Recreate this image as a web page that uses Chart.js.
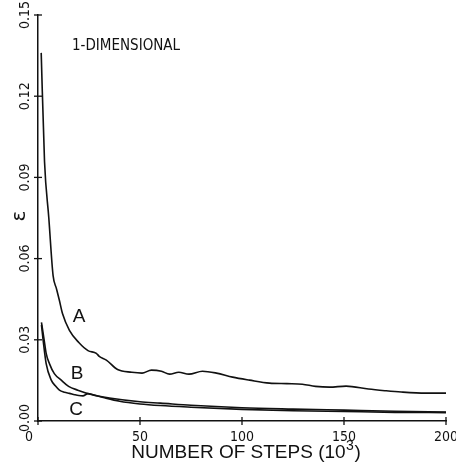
<!DOCTYPE html>
<html>
<head>
<meta charset="utf-8">
<script src="https://cdn.jsdelivr.net/npm/chart.js@4.4.1/dist/chart.umd.min.js"></script>
<style>
  html, body { margin: 0; padding: 0; background: #fff; }
  #wrap { width: 456px; height: 472px; }
</style>
</head>
<body>
<div id="wrap"><canvas id="c" width="456" height="472"></canvas></div>
<script>
// valores (passos em milhares)
const stepsA = [1.57, 3.19, 5.3, 7.4, 9, 10.5, 12, 15.4, 20, 24.5, 28.6, 30, 33.5, 39, 46, 51, 55.6, 60.5, 64.5, 69, 74, 80.6, 87.5, 95.4, 103.7, 113.5, 122, 129.6, 136, 142.9, 151, 162, 170, 178, 190, 200];
const errA   = [0.136, 0.096, 0.075, 0.0537, 0.049, 0.0445, 0.0397, 0.0335, 0.029, 0.026, 0.025, 0.0239, 0.0225, 0.019, 0.018, 0.0177, 0.0188, 0.0184, 0.0173, 0.018, 0.0173, 0.0184, 0.0177, 0.0162, 0.0151, 0.014, 0.0138, 0.0136, 0.0128, 0.0125, 0.0129, 0.0118, 0.0112, 0.0107, 0.0103, 0.0103];

const stepsB = [1.7, 3, 4, 5.6, 8, 11.4, 15, 19.5, 27, 35, 50, 60, 75, 100, 125, 150, 175, 200];
const errB   = [0.0364, 0.03, 0.025, 0.0212, 0.0175, 0.0151, 0.0128, 0.0114, 0.0096, 0.0085, 0.0071, 0.0066, 0.0058, 0.0049, 0.0044, 0.004, 0.0036, 0.0033];

const stepsC = [1.7, 2.5, 4, 6.5, 8.5, 10.5, 13, 15.4, 18, 20, 22, 24.5, 27, 32, 40, 50, 60, 75, 100, 125, 150, 175, 200];
const errC   = [0.0355, 0.03, 0.0212, 0.0151, 0.013, 0.0114, 0.0106, 0.0102, 0.0097, 0.0094, 0.0093, 0.0101, 0.0097, 0.0087, 0.0073, 0.0063, 0.0057, 0.0051, 0.0043, 0.0038, 0.0035, 0.0032, 0.0031];

const xTicks = [0, 50, 100, 150, 200];
const xTickLabels = ['0', '50', '100', '150', '200'];
const yTicks = [0, 0.03, 0.06, 0.09, 0.12, 0.15];
const yTickLabels = ['0.00', '0.03', '0.06', '0.09', '0.12', '0.15'];

const ink = '#111';
const tickFont = '14px "Liberation Sans Narrow", "DejaVu Sans Condensed", sans-serif';
const labelFont = '19px "Liberation Sans", sans-serif';

const pts = (xs, ys) => xs.map((x, i) => ({ x: x, y: ys[i] }));
const mkSet = (label, xs, ys) => ({
    label: label,
    data: pts(xs, ys),
    borderColor: ink,
    borderWidth: 1.6,
    pointRadius: 0,
    fill: false,
    cubicInterpolationMode: 'monotone'
});

// eixos, marcas e textos desenhados à mão (estilo plotter)
const decor = {
    id: 'decor',
    afterDraw: (chart) => {
        const ctx = chart.ctx;
        const sx = chart.scales.x, sy = chart.scales.y;
        ctx.save();
        ctx.strokeStyle = ink;
        ctx.fillStyle = ink;
        ctx.lineWidth = 1.3;

        yTicks.forEach((v, i) => {
            const py = sy.getPixelForValue(v);
            ctx.beginPath();
            ctx.moveTo(sx.left - 4, py); ctx.lineTo(sx.left + 4, py);
            ctx.stroke();
            ctx.save();
            ctx.translate(25, py);
            ctx.rotate(-Math.PI / 2);
            ctx.font = tickFont;
            ctx.textAlign = 'center';
            ctx.textBaseline = 'middle';
            ctx.fillText(yTickLabels[i], i === 0 ? 3 : 0, 0);
            ctx.restore();
        });

        xTicks.forEach((v, i) => {
            const px = sx.getPixelForValue(v);
            ctx.beginPath();
            ctx.moveTo(px, sy.bottom - 4); ctx.lineTo(px, sy.bottom + 4);
            ctx.stroke();
            ctx.font = tickFont;
            ctx.textAlign = 'center';
            ctx.textBaseline = 'middle';
            ctx.fillText(xTickLabels[i], i === 0 ? px - 9 : px, 437);
        });

        // titulo do eixo x, com expoente maior que o padrão
        const t1 = 'NUMBER OF STEPS (10', t2 = '3', t3 = ')';
        ctx.textAlign = 'left';
        ctx.textBaseline = 'alphabetic';
        ctx.font = labelFont;
        const w1 = ctx.measureText(t1).width, w3 = ctx.measureText(t3).width;
        ctx.font = '14px "Liberation Sans", sans-serif';
        const w2 = ctx.measureText(t2).width;
        let tx = 246 - (w1 + w2 + w3 + 1) / 2;
        ctx.font = labelFont;
        ctx.fillText(t1, tx, 458);
        ctx.font = '14px "Liberation Sans", sans-serif';
        ctx.fillText(t2, tx + w1 + 0.5, 450);
        ctx.font = labelFont;
        ctx.fillText(t3, tx + w1 + w2 + 1, 458);

        // epsilon
        ctx.save();
        ctx.translate(20, 216);
        ctx.rotate(-Math.PI / 2);
        ctx.font = '20px "DejaVu Sans", sans-serif';
        ctx.textAlign = 'center';
        ctx.textBaseline = 'middle';
        ctx.fillText('ε', 0, 0);
        ctx.restore();

        ctx.font = '15px "Liberation Sans Narrow", "DejaVu Sans Condensed", sans-serif';
        ctx.textAlign = 'left';
        ctx.textBaseline = 'alphabetic';
        ctx.fillText('1-DIMENSIONAL', 72, 50);

        ctx.font = '19px "Liberation Sans", sans-serif';
        ctx.textAlign = 'center';
        ctx.textBaseline = 'middle';
        ctx.fillText('A', 79, 317);
        ctx.fillText('B', 77, 374);
        ctx.fillText('C', 76, 410);
        ctx.restore();
    }
};

new Chart(document.getElementById('c'), {
    type: 'line',
    data: {
        datasets: [mkSet('A', stepsA, errA), mkSet('B', stepsB, errB), mkSet('C', stepsC, errC)]
    },
    options: {
        responsive: false,
        animation: false,
        layout: { padding: { top: 15, right: 10, left: 0, bottom: 0 } },
        plugins: { legend: { display: false }, tooltip: { enabled: false } },
        scales: {
            x: {
                type: 'linear', min: 0, max: 200,
                ticks: { display: false, stepSize: 50 },
                grid: { display: false },
                border: { display: true, color: ink, width: 1.5 },
                afterFit: (s) => { s.height = 51; }
            },
            y: {
                type: 'linear', min: 0, max: 0.15,
                ticks: { display: false, stepSize: 0.03 },
                grid: { display: false },
                border: { display: true, color: ink, width: 1.5 },
                afterFit: (s) => { s.width = 38; }
            }
        }
    },
    plugins: [decor]
});
</script>
</body>
</html>
